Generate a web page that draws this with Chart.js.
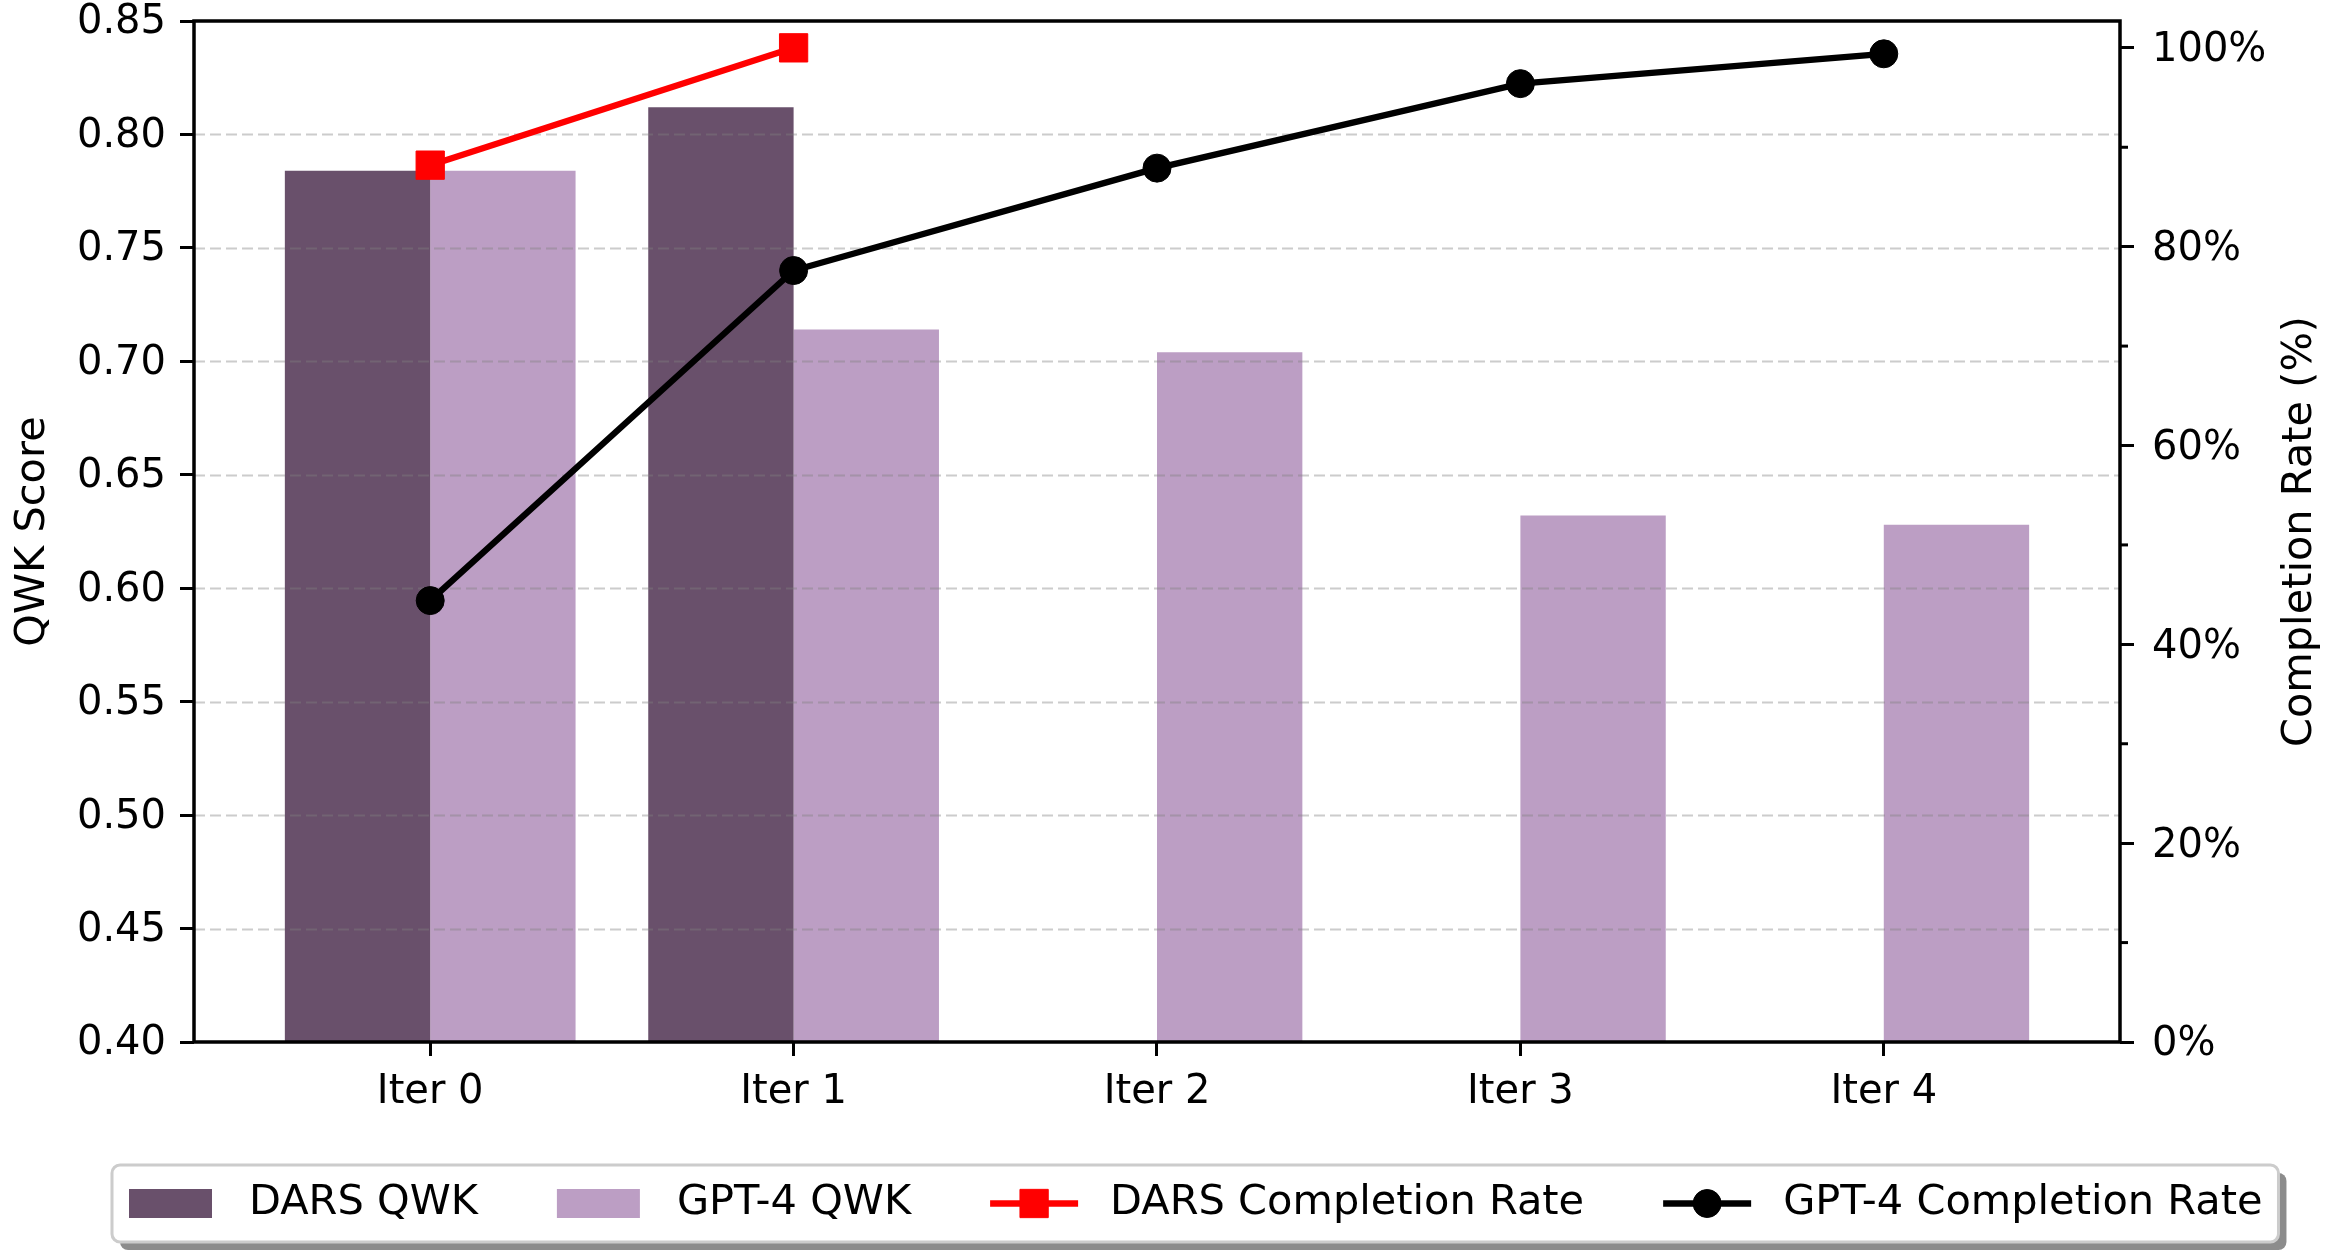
<!DOCTYPE html>
<html>
<head>
<meta charset="utf-8">
<script src="https://cdn.jsdelivr.net/npm/chart.js@4.4.1/dist/chart.umd.min.js"></script>
<style>
  html, body { margin: 0; padding: 0; background: #fff; }
  #wrap { width: 2327px; height: 1255px; }
</style>
</head>
<body>
<div id="wrap"><canvas id="qwkChart" width="2327" height="1255"></canvas></div>
<script>
// data
const categories = ['Iter 0', 'Iter 1', 'Iter 2', 'Iter 3', 'Iter 4'];
const darsQwk = [0.784, 0.812, null, null, null];
const gpt4Qwk = [0.784, 0.714, 0.704, 0.632, 0.628];
const darsRate = [88.2, 100, null, null, null];
const gpt4Rate = [44.4, 77.6, 87.9, 96.4, 99.4];
const qwkTicks = [0.40, 0.45, 0.50, 0.55, 0.60, 0.65, 0.70, 0.75, 0.80, 0.85];
const rateTicks = [0, 20, 40, 60, 80, 100];
const rateMinorTicks = [10, 30, 50, 70, 90];

const FONT = 'DejaVu Sans';
const darkPurple = '#69506b';
const lightPurple = '#bc9ec4';

function toPoints(arr) {
  return arr.map((y, i) => ({ x: i, y: y })).filter(p => p.y !== null);
}

Chart.defaults.font.family = FONT;
Chart.defaults.font.size = 40;
Chart.defaults.color = '#000';

const extras = {
  id: 'extras',
  afterDatasetDraw(chart, args) {
    if (args.index !== 0) return;
    // dashed grid on top of the bars
    const ctx = chart.ctx;
    const area = chart.chartArea;
    const y = chart.scales.y;
    ctx.save();
    ctx.strokeStyle = 'rgba(128,128,128,0.4)';
    ctx.lineWidth = 2;
    ctx.setLineDash([11, 5]);
    qwkTicks.slice(1, -1).forEach(v => {
      const py = Math.round(y.getPixelForValue(v)) + 0.5;
      ctx.beginPath();
      ctx.moveTo(area.left, py);
      ctx.lineTo(area.right, py);
      ctx.stroke();
    });
    ctx.restore();
  },
  afterDraw(chart) {
    const ctx = chart.ctx;
    const area = chart.chartArea;
    const y2 = chart.scales.y2;
    ctx.save();

    // frame
    ctx.strokeStyle = '#000';
    ctx.lineWidth = 3.5;
    ctx.strokeRect(area.left, area.top, area.right - area.left, area.bottom - area.top);

    // minor ticks on the right axis
    ctx.lineWidth = 3;
    rateMinorTicks.forEach(v => {
      const py = y2.getPixelForValue(v);
      ctx.beginPath();
      ctx.moveTo(area.right, py);
      ctx.lineTo(area.right + 8, py);
      ctx.stroke();
    });

    // axis titles
    ctx.fillStyle = '#000';
    ctx.font = '41.5px "' + FONT + '"';
    ctx.textAlign = 'center';
    ctx.textBaseline = 'middle';
    const midY = (area.top + area.bottom) / 2;
    ctx.save();
    ctx.translate(33, midY);
    ctx.rotate(-Math.PI / 2);
    ctx.fillText('QWK Score', 0, 0);
    ctx.restore();
    ctx.save();
    ctx.translate(2300, midY);
    ctx.rotate(-Math.PI / 2);
    ctx.fillText('Completion Rate (%)', 0, 0);
    ctx.restore();

    // legend
    const left = 112, top = 1165, h = 77, cy = top + h / 2;
    const items = chart.data.datasets;
    const widths = items.map(d => ctx.measureText(d.label).width);
    let total = 17;
    widths.forEach((w, i) => { total += 120 + w + (i < widths.length - 1 ? 79 : 16); });
    // shadow + box
    ctx.fillStyle = 'rgba(0,0,0,0.45)';
    ctx.beginPath();
    ctx.roundRect(left + 8, top + 8, total, h, 8);
    ctx.fill();
    ctx.fillStyle = '#fff';
    ctx.strokeStyle = '#cccccc';
    ctx.lineWidth = 3;
    ctx.beginPath();
    ctx.roundRect(left, top, total, h, 8);
    ctx.fill();
    ctx.stroke();

    let x = left + 17;
    items.forEach((d, i) => {
      if (d.type === 'line') {
        ctx.strokeStyle = d.borderColor;
        ctx.lineWidth = d.borderWidth;
        ctx.beginPath();
        ctx.moveTo(x, cy);
        ctx.lineTo(x + 88, cy);
        ctx.stroke();
        ctx.lineWidth = 1;
        ctx.fillStyle = d.borderColor;
        Chart.helpers.drawPoint(ctx, {
          pointStyle: d.pointStyle,
          radius: d.pointRadius,
          borderWidth: 1
        }, x + 44, cy);
      } else {
        ctx.fillStyle = d.backgroundColor;
        ctx.fillRect(x, cy - 14.5, 83, 29);
      }
      ctx.fillStyle = '#000';
      ctx.textAlign = 'left';
      ctx.textBaseline = 'middle';
      ctx.fillText(d.label, x + 120, cy);
      x += 120 + widths[i] + 79;
    });
    ctx.restore();
  }
};

const tickGrid = { offset: false, drawOnChartArea: false, drawTicks: true, tickLength: 14, tickWidth: 3, tickColor: '#000' };

new Chart(document.getElementById('qwkChart'), {
  type: 'bar',
  data: {
    datasets: [
      {
        label: 'DARS QWK',
        data: toPoints(darsQwk),
        backgroundColor: darkPurple,
        categoryPercentage: 0.8,
        barPercentage: 1.0,
        yAxisID: 'y',
        order: 2,
      },
      {
        label: 'GPT-4 QWK',
        data: toPoints(gpt4Qwk),
        backgroundColor: lightPurple,
        categoryPercentage: 0.8,
        barPercentage: 1.0,
        yAxisID: 'y',
        order: 2,
      },
      {
        type: 'line',
        label: 'DARS Completion Rate',
        data: toPoints(darsRate),
        borderColor: '#ff0000',
        backgroundColor: '#ff0000',
        borderWidth: 6.3,
        pointStyle: 'rect',
        pointRadius: 20,
        pointBorderWidth: 1,
        pointBackgroundColor: '#ff0000',
        yAxisID: 'y2',
        tension: 0,
        order: 1,
      },
      {
        type: 'line',
        label: 'GPT-4 Completion Rate',
        data: toPoints(gpt4Rate),
        borderColor: '#000000',
        backgroundColor: '#000000',
        borderWidth: 6.3,
        pointStyle: 'circle',
        pointRadius: 14,
        pointBorderWidth: 1,
        pointBackgroundColor: '#000000',
        yAxisID: 'y2',
        tension: 0,
        order: 1,
      },
    ],
  },
  options: {
    responsive: false,
    animation: false,
    devicePixelRatio: 1,
    events: [],
    layout: { padding: { top: 19, left: 0, right: 0, bottom: 0 } },
    plugins: {
      legend: { display: false },
      tooltip: { enabled: false },
    },
    scales: {
      x: {
        type: 'linear',
        min: -0.65,
        max: 4.65,
        offset: false,
        border: { display: false },
        grid: tickGrid,
        ticks: {
          padding: 13,
          maxRotation: 0,
          callback: (v) => categories[v],
        },
        afterBuildTicks: (s) => { s.ticks = categories.map((c, i) => ({ value: i })); },
        afterFit: (s) => { s.height = 213; s.paddingLeft = 0; s.paddingRight = 0; },
      },
      y: {
        position: 'left',
        min: 0.40,
        max: 0.85,
        border: { display: false },
        grid: tickGrid,
        ticks: { padding: 14, labelOffset: 2, callback: (v) => v.toFixed(2) },
        afterBuildTicks: (s) => { s.ticks = qwkTicks.map(v => ({ value: v })); },
        afterFit: (s) => { s.width = 194; s.paddingTop = 0; s.paddingBottom = 0; },
      },
      y2: {
        position: 'right',
        min: 0,
        max: 102.7,
        border: { display: false },
        grid: tickGrid,
        ticks: { padding: 18, labelOffset: 3, callback: (v) => v + '%' },
        afterBuildTicks: (s) => { s.ticks = rateTicks.map(v => ({ value: v })); },
        afterFit: (s) => { s.width = 207; s.paddingTop = 0; s.paddingBottom = 0; },
      },
    },
  },
  plugins: [extras],
});
</script>
</body>
</html>
